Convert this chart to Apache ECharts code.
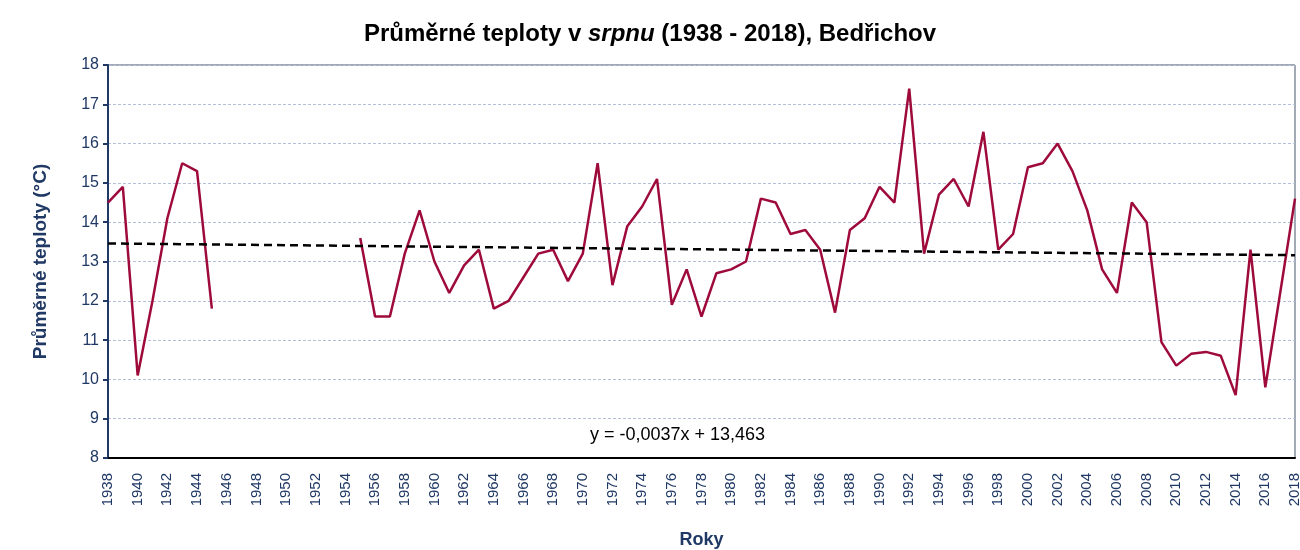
<!DOCTYPE html>
<html>
<head>
<meta charset="utf-8">
<script src="https://cdn.jsdelivr.net/npm/echarts@6/dist/echarts.min.js"></script>
<style>
  html, body { margin: 0; padding: 0; background: #fff; }
  #chart { width: 1300px; height: 550px; }
</style>
</head>
<body>
<div id="chart"></div>
<script>
// roky 1938 - 2018
const years = [];
for (let y = 1938; y <= 2018; y++) years.push(String(y));

// průměrné teploty v srpnu (null = chybí data)
const temps = [
  14.5, 14.9, 10.1, 12.0, 14.1, 15.5, 15.3, 11.8,
  null, null, null, null, null, null, null, null, null,
  13.6, 11.6, 11.6, 13.2, 14.3, 13.0, 12.2, 12.9, 13.3, 11.8,
  12.0, 12.6, 13.2, 13.3, 12.5, 13.2, 15.5, 12.4, 13.9, 14.4,
  15.1, 11.9, 12.8, 11.6, 12.7, 12.8, 13.0, 14.6, 14.5, 13.7,
  13.8, 13.3, 11.7, 13.8, 14.1, 14.9, 14.5, 17.4, 13.2, 14.7,
  15.1, 14.4, 16.3, 13.3, 13.7, 15.4, 15.5, 16.0, 15.3, 14.3,
  12.8, 12.2, 14.5, 14.0, 10.95, 10.35, 10.65, 10.7, 10.6, 9.6,
  13.3, 9.8, 12.2, 14.6
];

// lineární trend - hodnoty na začátku a konci období
const trendYears = ['1938', '2018'];
const trendValues = [13.46, 13.16];
const trendLabel = 'y = -0,0037x + 13,463';

const navy = '#1F3864';
const font = 'Liberation Sans';

const chart = echarts.init(document.getElementById('chart'));
const option = {
  animation: false,
  title: {
    text: '{b|Průměrné teploty v }{i|srpnu}{b| (1938 - 2018), Bedřichov}',
    left: 'center',
    top: 17,
    textStyle: {
      rich: {
        b: { fontFamily: font, fontSize: 24, fontWeight: 'bold', color: '#000' },
        i: { fontFamily: font, fontSize: 24, fontStyle: 'italic', color: '#000' }
      }
    }
  },
  grid: {
    left: 108,
    right: 5,
    top: 65,
    bottom: 92,
    outerBoundsMode: 'none',
    show: true,
    borderColor: '#44546A',
    borderWidth: 1
  },
  xAxis: {
    type: 'category',
    data: years,
    boundaryGap: false,
    name: 'Roky',
    nameLocation: 'middle',
    nameGap: 73,
    nameTextStyle: { fontFamily: font, fontSize: 18, fontWeight: 'bold', color: navy },
    axisLine: { lineStyle: { color: '#000', width: 2 } },
    axisTick: { show: false },
    axisLabel: {
      interval: 1,
      rotate: 90,
      margin: 15,
      fontFamily: font,
      fontSize: 15,
      color: navy
    },
    splitLine: { show: false }
  },
  yAxis: {
    type: 'value',
    min: 8,
    max: 18,
    interval: 1,
    name: 'Průměrné teploty (°C)',
    nameLocation: 'middle',
    nameGap: 58,
    nameTextStyle: { fontFamily: font, fontSize: 19, fontWeight: 'bold', color: navy },
    axisLine: { show: true, lineStyle: { color: navy, width: 2 } },
    axisTick: { show: true, length: 5, lineStyle: { color: navy, width: 2 } },
    axisLabel: { fontFamily: font, fontSize: 16, color: navy, margin: 9 },
    splitLine: { lineStyle: { color: '#B4BED6', type: [3, 2], width: 1 } }
  },
  series: [
    {
      name: 'Teplota',
      type: 'line',
      data: temps,
      connectNulls: false,
      showSymbol: false,
      symbol: 'none',
      lineStyle: { color: '#9E0B3B', width: 2.5 },
      z: 3
    },
    {
      name: 'Trend',
      type: 'line',
      data: trendYears.map((y, i) => [y, trendValues[i]]),
      showSymbol: false,
      symbol: 'none',
      lineStyle: { color: '#000', width: 2.5, type: [8, 5] },
      z: 4
    }
  ],
  graphic: [
    {
      type: 'text',
      left: 590,
      top: 426,
      style: { text: trendLabel, fontFamily: font, fontSize: 18, fill: '#000' }
    }
  ]
};
chart.setOption(option);
</script>
</body>
</html>
